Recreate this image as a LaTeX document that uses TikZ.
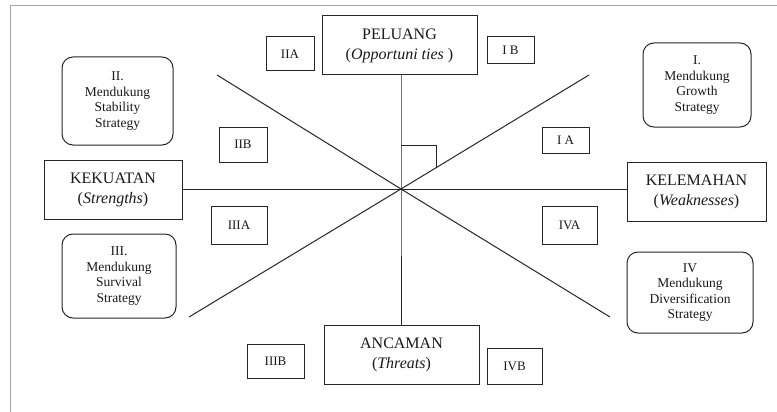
\documentclass[tikz,border=0pt]{standalone}
\usepackage{fontspec}
\setmainfont{Liberation Serif}
\definecolor{ink}{gray}{0.15}
\definecolor{txt}{gray}{0.1}
\begin{document}
\begin{tikzpicture}[x=1pt,y=-1pt,
  every node/.style={text=txt},
  mainbox/.style={draw=ink,line width=1pt,inner sep=0pt,align=center,font=\fontsize{16}{20}\selectfont},
  tagbox/.style={draw=ink,line width=1pt,inner sep=0pt,align=center,font=\fontsize{13}{15}\selectfont},
  stratbox/.style={draw=ink,line width=1pt,rounded corners=11pt,inner sep=0pt,align=center,font=\fontsize{13.5}{15.5}\selectfont},
  axis/.style={draw=ink,line width=1pt}]
\useasboundingbox (0,0) rectangle (777,412);
\draw[gray!70,line width=0.8pt] (10,412) -- (10,5) -- (777,5);
% main boxes
\node[mainbox,minimum width=155pt,minimum height=59pt] (pel) at (399.5,45.5) {PELUANG\\(\textit{Opportuni ties} )};
\node[mainbox,minimum width=155pt,minimum height=59pt] (anc) at (401.5,354.5) {ANCAMAN\\(\textit{Threats})};
\node[mainbox,minimum width=138pt,minimum height=59pt] (kek) at (113,189.5) {KEKUATAN\\(\textit{Strengths})};
\node[mainbox,minimum width=139pt,minimum height=59pt] (kel) at (696.5,191.5) {KELEMAHAN\\(\textit{Weaknesses})};
% centre and diagonals
\coordinate (c) at (401,189);
\coordinate (ul) at (217,75);
\coordinate (ur) at (589,75);
\coordinate (ll) at (189,317);
\coordinate (lr) at (610,317);
\draw[axis] (pel.south -| c) -- (c) -- (anc.north -| c);
\draw[axis] (kek.east) -- (kek.east -| c) -- (kel.west |- kek.east);
\draw[axis] (ul) -- (c) -- (lr);
\draw[axis] (ur) -- (c) -- (ll);
\coordinate (m1) at (401,145);
\coordinate (m2) at (436,145);
\coordinate (m3) at (436,167);
\draw[axis] (m1) -- (m2) -- (m3);
% tag boxes
\node[tagbox,minimum width=48pt,minimum height=34pt] (iia) at (290,54) {IIA};
\node[tagbox,minimum width=47pt,minimum height=27pt] (ib) at (510.5,50.5) {I B};
\node[tagbox,minimum width=48pt,minimum height=35pt] (iib) at (243,144.5) {IIB};
\node[tagbox,minimum width=47pt,minimum height=26pt] (ia) at (565.5,140) {I A};
\node[tagbox,minimum width=56pt,minimum height=38pt] (iiia) at (239,225) {IIIA};
\node[tagbox,minimum width=55pt,minimum height=38pt] (iva) at (569.5,225) {IVA};
\node[tagbox,minimum width=57pt,minimum height=34pt] (iiib) at (275.5,361) {IIIB};
\node[tagbox,minimum width=55pt,minimum height=36pt] (ivb) at (514.5,366) {IVB};
% strategy boxes
\node[stratbox,minimum width=111pt,minimum height=88pt] (s2) at (117.5,101) {II.\\Mendukung\\Stability\\Strategy};
\node[stratbox,minimum width=108pt,minimum height=84pt] (s1) at (697,85) {I.\\Mendukung\\Growth\\Strategy};
\node[stratbox,minimum width=114pt,minimum height=84pt] (s3) at (119,276) {III.\\Mendukung\\Survival\\Strategy};
\node[stratbox,minimum width=126pt,minimum height=81pt] (s4) at (690,292.5) {IV\\Mendukung\\Diversification\\Strategy};
\end{tikzpicture}
\end{document}
